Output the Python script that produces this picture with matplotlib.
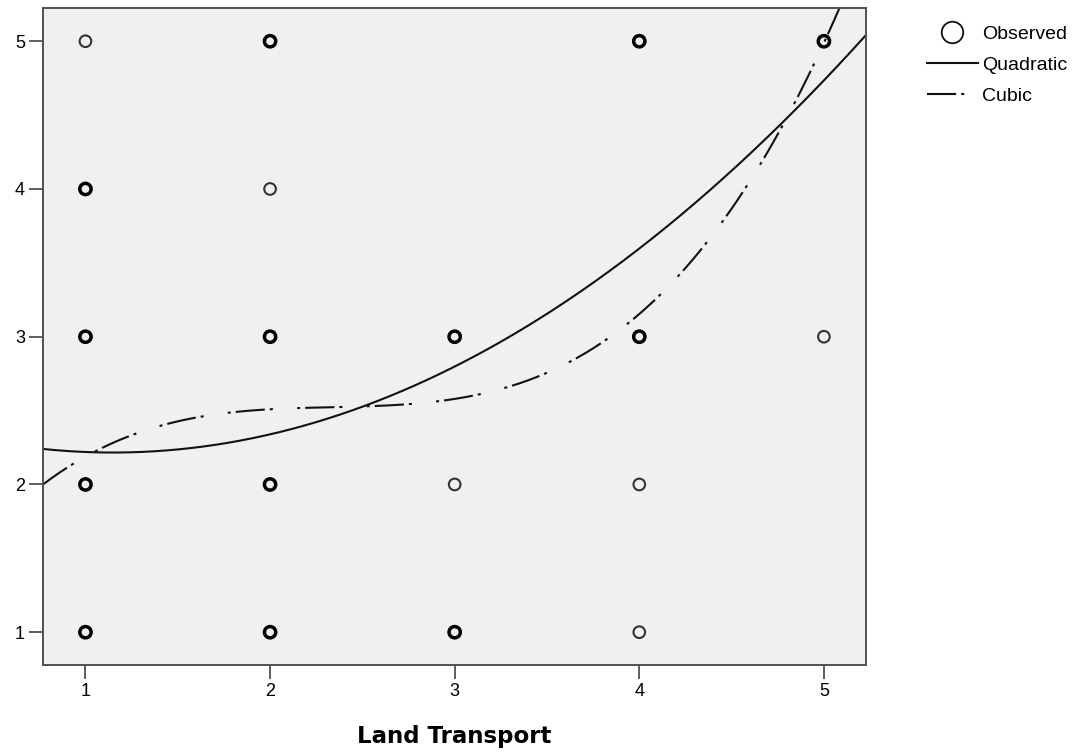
import numpy as np
import matplotlib
matplotlib.use('Agg')
import matplotlib.pyplot as plt
from matplotlib.lines import Line2D

# ---------------------------------------------------------------------------
# Datos
# ---------------------------------------------------------------------------
obs_x = [1, 1, 1, 1, 1, 2, 2, 2, 2, 2, 3, 3, 3, 4, 4, 4, 4, 5, 5]
obs_y = [5, 4, 3, 2, 1, 5, 4, 3, 2, 1, 3, 2, 1, 5, 3, 2, 1, 5, 3]
# casos superpuestos (>1 dibuja el círculo más grueso)
obs_n = [1, 2, 2, 2, 2, 2, 1, 2, 2, 2, 2, 1, 2, 2, 2, 1, 1, 2, 1]

# coeficientes ajustados (potencias crecientes)
quad_coef = [2.44, -0.39, 0.1698]                 # en x
cubic_coef = [2.579, 0.1965, 0.2524, 0.12588]     # en (x - 3)
CUBIC_CENTER = 3.0

X_LABEL = 'Land Transport'
TICKS = [1, 2, 3, 4, 5]

# ---------------------------------------------------------------------------
plt.rcParams['font.family'] = ['Liberation Sans', 'DejaVu Sans']
plt.rcParams['lines.scale_dashes'] = False

fig = plt.figure(figsize=(10.78, 7.55), dpi=100)
ax = fig.add_axes([43 / 1078, 1 - 665 / 755, (866 - 43) / 1078, (665 - 8) / 755])
ax.set_facecolor('#f0f0f0')

XLIM = (0.77, 5.228)
YLIM = (0.778, 5.225)
ax.set_xlim(*XLIM)
ax.set_ylim(*YLIM)

# puntos observados
ox = np.array(obs_x)
oy = np.array(obs_y)
on = np.array(obs_n)
single = on == 1
ax.scatter(ox[single], oy[single], s=70, facecolors='none',
           edgecolors='#333333', linewidths=1.5, zorder=3)
ax.scatter(ox[~single], oy[~single], s=66, facecolors='none',
           edgecolors='#000000', linewidths=2.5, zorder=3)

# curvas
xs = np.linspace(XLIM[0], XLIM[1], 400)
y_quad = np.polynomial.polynomial.polyval(xs, quad_coef)
y_cub = np.polynomial.polynomial.polyval(xs - CUBIC_CENTER, cubic_coef)

CUBIC_DASH = (0, (21.0, 3.6, 2.2, 17.5, 2.2, 3.6))
ax.plot(xs, y_quad, color='#111111', lw=1.5, zorder=2)
ax.plot(xs, y_cub, color='#111111', lw=1.5, ls=CUBIC_DASH, zorder=2)

# ejes
for sp in ax.spines.values():
    sp.set_color('#505050')
    sp.set_linewidth(1.4)
ax.set_xticks(TICKS)
ax.set_yticks(TICKS)
ax.tick_params(direction='out', length=10, width=1.3, color='#505050',
               labelsize=13, pad=3)
ax.set_xlabel(X_LABEL, fontsize=16.5, fontweight='bold',
              family='DejaVu Sans', labelpad=18)

# leyenda
handles = [
    Line2D([], [], marker='o', ls='none', mfc='none', mec='#111111',
           ms=15.5, mew=1.3),
    Line2D([], [], color='#111111', lw=1.5),
    Line2D([], [], color='#111111', lw=1.5, ls=CUBIC_DASH),
]
fig.legend(handles, ['Observed', 'Quadratic', 'Cubic'],
           loc='upper left', bbox_to_anchor=(927 / 1078, 1 - 25 / 755),
           frameon=False, fontsize=14, handlelength=2.62,
           handletextpad=0.2, labelspacing=0.7, borderpad=0,
           borderaxespad=0)

fig.savefig('out.png', dpi=100)
